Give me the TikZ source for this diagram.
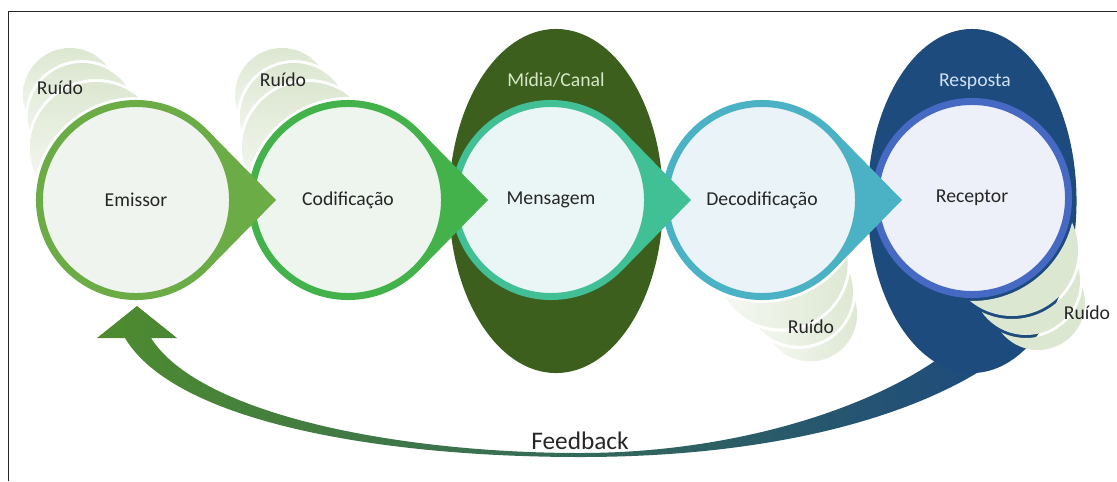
\documentclass[tikz,border=0pt]{standalone}
\usepackage{fontspec}
\setmainfont{Carlito}
\usetikzlibrary{calc}
\usetikzlibrary{shapes.geometric}

\definecolor{txtgray}{HTML}{262626}
\definecolor{emring}{HTML}{6CAC46}
\definecolor{emcore}{HTML}{F0F4EE}
\definecolor{coring}{HTML}{43B24B}
\definecolor{cocore}{HTML}{EEF5EF}
\definecolor{mering}{HTML}{41BF95}
\definecolor{mecore}{HTML}{EAF6F5}
\definecolor{dering}{HTML}{4AB2C4}
\definecolor{decore}{HTML}{EAF3F7}
\definecolor{rering}{HTML}{4669C3}
\definecolor{recore}{HTML}{EDF0F9}
\definecolor{canal}{HTML}{3C5F1E}
\definecolor{canaltxt}{HTML}{D6E8C6}
\definecolor{resposta}{HTML}{1E4B7D}
\definecolor{respostatxt}{HTML}{CFE0F2}
\definecolor{noisegreen}{HTML}{DCE7D1}
\definecolor{fbgreen}{HTML}{4E8C2E}
\definecolor{fbmid}{HTML}{3E6A55}

\tikzset{
  stage/.style={circle, line width=0.175cm, minimum size=4.825cm, inner sep=0pt,
                text=txtgray, font=\fontsize{14}{17}\selectfont},
  halo/.style={ellipse, minimum width=5.35cm, minimum height=8.6cm, inner sep=0pt},
  noisedown/.style={top color=noisegreen, bottom color=noisegreen!10},
  noiseleft/.style={right color=noisegreen, left color=noisegreen!20},
  noiseflat/.style={fill=noisegreen},
  noiselabel/.style={text=txtgray, font=\fontsize{14}{17}\selectfont},
}

% three crescents stacked up-left of a circle of radius 100 at the origin;
% #1 places (and turns) the group, #2 is the fill
\newcommand{\ruido}[2]{%
  \begin{scope}[#1]
    \foreach \ox/\oy/\r/\px/\py/\pr in {-40/-52/66/0/0/100, -54/-83/54/-40/-52/66, -66/-105/47/-54/-83/54}{
      \begin{scope}[even odd rule]
        % box minus the previous circle (drawn the other way round)
        \clip (-400,-400) -- (400,-400) -- (400,400) -- (-400,400) -- cycle
          (\px,\py) ++(\pr+3,0) arc[start angle=0, end angle=-360, radius=\pr+3];
        \path[#2] (\ox,\oy) circle (\r);
      \end{scope}
    }
  \end{scope}%
}

\begin{document}
\begin{tikzpicture}[x=0.025cm, y=-0.025cm]
  \useasboundingbox (0,0) rectangle (1117,481);
  \draw[line width=1.4pt, black!85] (8.5,481) -- (8.5,11.5) -- (1117,11.5);

  % feedback arrow, drawn first so its tail disappears into the ellipse
  \coordinate (fbtip) at (137,306);
  \coordinate (fbtail) at (968,360);
  \shade[left color=fbgreen, middle color=fbmid, right color=resposta]
    (97,338) -- (fbtip) -- (177,338) -- (151,338)
    .. controls (200,415) and (400,453) .. (580,453)
    .. controls (740,453) and (880,405) .. (950,350)
    -- (985,368)
    .. controls (900,422) and (760,457) .. (580,457)
    .. controls (380,457) and (175,422) .. (125,338) -- cycle;

  % channel and response
  \node[halo, fill=canal] (canal) at (556,201) {};
  \node[halo, fill=resposta, minimum width=5.225cm] (resposta) at (972,201) {};
  \node[text=canaltxt, font=\fontsize{14}{17}\selectfont] (canallabel) at (556,80) {Mídia/Canal};
  \node[text=respostatxt, font=\fontsize{14}{17}\selectfont] (resplabel) at (975,82) {Resposta};

  % noise
  \ruido{shift={(136,200)}}{noisedown}
  \ruido{shift={(348,200)}}{noisedown}
  \ruido{shift={(762,200)}, cm={0.574,0.819,0.819,-0.574,(0,0)}}{noiseleft}
  \ruido{shift={(972,198)}, rotate=180}{noiseflat}

  % stages, right to left so each tip lies over the next circle
  \node[stage, draw=rering, fill=recore] (receptor) at (972,198) {Receptor};
  \foreach \name/\cx/\ring/\core/\txt in {decodificacao/762/dering/decore/Decodificação,
      mensagem/551/mering/mecore/Mensagem,
      codificacao/348/coring/cocore/Codificação,
      emissor/136/emring/emcore/Emissor}{
    \fill[\ring] (\cx+140,200) -- ($(\cx,200)+(44.4:100)$) -- ($(\cx,200)+(-44.4:100)$) -- cycle;
    \node[stage, draw=\ring, fill=\core] (\name) at (\cx,200) {\txt};
  }

  \node[noiselabel] (ruido1) at (60,88) {Ruído};
  \node[noiselabel] (ruido2) at (283,80) {Ruído};
  \node[noiselabel] (ruido3) at (811,327) {Ruído};
  \node[noiselabel] (ruido4) at (1087,313) {Ruído};

  \node[text=txtgray, font=\fontsize{18}{22}\selectfont] (fblabel) at (580,441) {Feedback};
\end{tikzpicture}
\end{document}
